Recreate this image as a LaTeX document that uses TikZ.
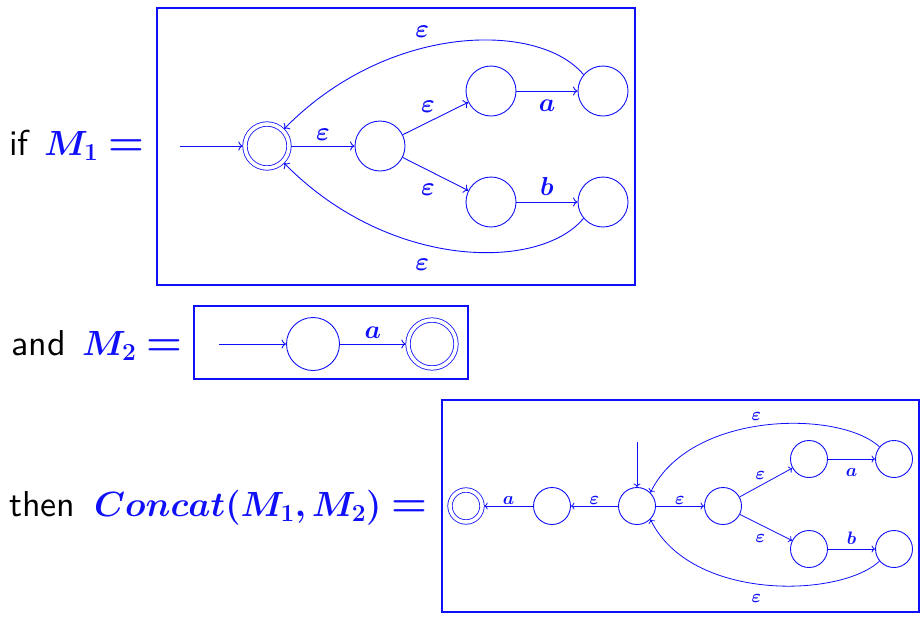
\RequirePackage{fix-cm}
\documentclass[tikz,border=0pt]{standalone}
\usepackage{amsmath}
\usepackage{bm}
\usepackage{graphicx}
\usetikzlibrary{arrows.meta}
\definecolor{myblue}{RGB}{15,15,250}
\newcommand{\bigword}[1]{\scalebox{3.6}{\sffamily\fontsize{10}{12}\selectfont #1}}
\begin{document}
\begin{tikzpicture}[x=1pt,y=-1pt,
  st/.style={circle,draw=myblue,line width=0.9pt,inner sep=0pt,minimum size=#1},
  acc/.style={circle,draw=myblue,line width=0.8pt,double=white,double distance=3.6pt,inner sep=0pt,minimum size=#1,outer sep=2.2pt},
  tr/.style={-{Computer Modern Rightarrow[width=9pt,length=4.5pt]},draw=myblue,line width=0.9pt},
  str/.style={-{Computer Modern Rightarrow[width=7pt,length=3.5pt]},draw=myblue,line width=0.8pt},
  lbl/.style={text=myblue,font=\fontsize{26}{28}\selectfont,inner sep=2pt},
  slbl/.style={text=myblue,font=\fontsize{18}{20}\selectfont,inner sep=1.5pt},
  frame/.style={draw=myblue,line width=#1},
  word/.style={inner sep=0pt,anchor=base west},
  bigm/.style={font=\fontsize{35}{40}\selectfont,text=myblue,inner sep=0pt,anchor=base west},
  eqm/.style={font=\fontsize{41}{44}\selectfont,text=myblue,inner sep=0pt,anchor=base west},
]
\useasboundingbox (0,0) rectangle (924,619);

% ---------- M1 ----------
\node[word] (w1) at (9,155) {\bigword{if}};
\node[bigm] (n1) at (44,155) {$\bm{M_1}$};
\node[eqm] (e1) at (108,155) {$\bm{=}$};
\draw[frame=2.6pt] (157,8) rectangle (635,285);
\coordinate (i1) at (180,146);
\node[acc=44pt] (q0) at (267,146) {};
\node[st=50pt] (q1) at (380,146) {};
\node[st=50pt] (q2) at (491,91) {};
\node[st=50pt] (q3) at (603,91) {};
\node[st=50pt] (q4) at (491,202) {};
\node[st=50pt] (q5) at (603,202) {};
\draw[tr] (i1) -- (q0);
\draw[tr] (q0) -- node[lbl,above=3pt] {$\bm{\varepsilon}$} (q1);
\draw[tr] (q1) -- node[lbl,above=7pt,xshift=-1pt,pos=0.4] {$\bm{\varepsilon}$} (q2);
\draw[tr] (q1) -- node[lbl,below=11pt,xshift=-1pt,pos=0.4] {$\bm{\varepsilon}$} (q4);
\draw[tr] (q2) -- node[lbl,below=6pt] {$\bm{a}$} (q3);
\draw[tr] (q4) -- node[lbl,above=4pt] {$\bm{b}$} (q5);
\draw[tr] (q3.140) .. controls +(-44,-53) and +(105,-107) .. node[lbl,above=8pt,pos=0.6] {$\bm{\varepsilon}$} (q0.45);
\draw[tr] (q5.220) .. controls +(-44,53) and +(105,107) .. node[lbl,below=12pt,pos=0.6] {$\bm{\varepsilon}$} (q0.-45);

% ---------- M2 ----------
\node[word] (w2) at (11,355) {\bigword{and}};
\node[bigm] (n2) at (82,355) {$\bm{M_2}$};
\node[eqm] (e2) at (146,355) {$\bm{=}$};
\draw[frame=2.8pt] (194,306) rectangle (468,379);
\coordinate (i2) at (219,344);
\node[st=53pt] (m0) at (313,344) {};
\node[acc=48pt] (m1) at (432,344) {};
\draw[tr] (i2) -- (m0);
\draw[tr] (m0) -- node[lbl,above=3pt] {$\bm{a}$} (m1);

% ---------- Concat ----------
\node[word] (w3) at (9,516) {\bigword{then}};
\node[bigm] (n3) at (94,516) {$\bm{Concat(M_1,M_2)}$};
\node[eqm] (e3) at (391,516) {$\bm{=}$};
\draw[frame=2pt] (442,400) rectangle (919,612);
\coordinate (i3) at (637,442);
\node[acc=32pt] (f) at (466,506) {};
\node[st=37pt] (p1) at (552,506) {};
\node[st=37pt] (c0) at (637,506) {};
\node[st=37pt] (c1) at (723,506) {};
\node[st=37pt] (c2) at (809,459) {};
\node[st=37pt] (c3) at (894,459) {};
\node[st=37pt] (c4) at (809,549) {};
\node[st=37pt] (c5) at (894,549) {};
\draw[str] (i3) -- (c0);
\draw[str] (p1) -- node[slbl,above] {$\bm{a}$} (f);
\draw[str] (c0) -- node[slbl,above] {$\bm{\varepsilon}$} (p1);
\draw[str] (c0) -- node[slbl,above] {$\bm{\varepsilon}$} (c1);
\draw[str] (c1) -- node[slbl,above=3pt,xshift=-3pt,pos=0.45] {$\bm{\varepsilon}$} (c2);
\draw[str] (c1) -- node[slbl,below=6pt,xshift=-3pt,pos=0.45] {$\bm{\varepsilon}$} (c4);
\draw[str] (c2) -- node[slbl,below=8pt] {$\bm{a}$} (c3);
\draw[str] (c4) -- node[slbl,above=3pt] {$\bm{b}$} (c5);
\draw[str] (c3.140) .. controls +(-40,-37) and +(40,-82) .. node[slbl,above=4pt,pos=0.53] {$\bm{\varepsilon}$} (c0.45);
\draw[str] (c5.220) .. controls +(-40,37) and +(40,82) .. node[slbl,below=9pt,pos=0.53] {$\bm{\varepsilon}$} (c0.-45);
\end{tikzpicture}
\end{document}
